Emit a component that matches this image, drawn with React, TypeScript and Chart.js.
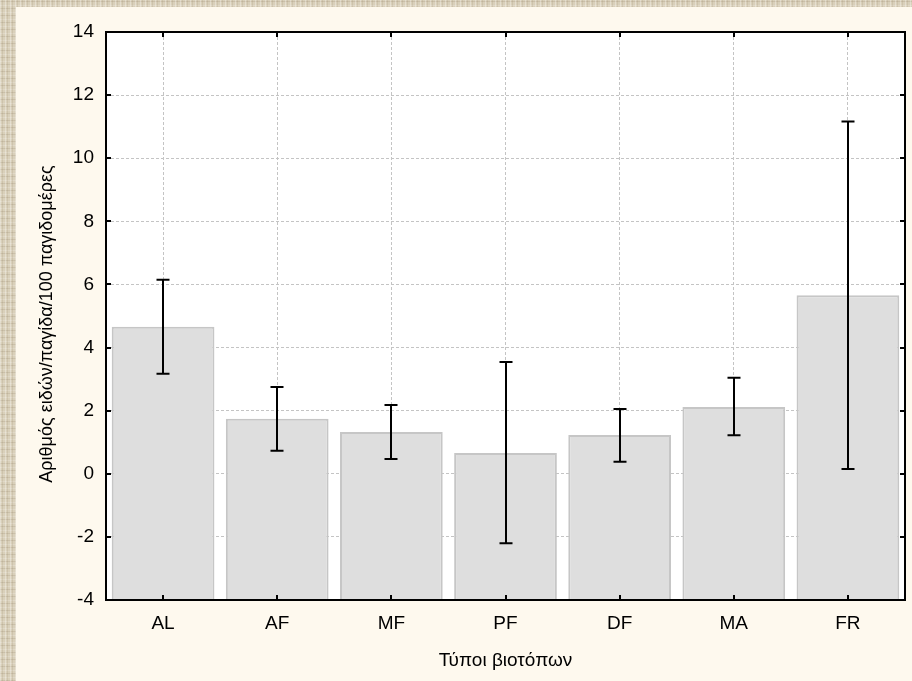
import React, { useEffect, useRef } from "react";
import { Chart, registerables } from "chart.js";

Chart.register(...registerables);

const categories = ["AL", "AF", "MF", "PF", "DF", "MA", "FR"];
const means = [4.66, 1.74, 1.32, 0.66, 1.23, 2.12, 5.66];
const upper = [6.15, 2.75, 2.18, 3.54, 2.05, 3.04, 11.16];
const lower = [3.17, 0.73, 0.47, -2.2, 0.38, 1.22, 0.15];
const yMin = -4;
const yMax = 14;
const yStep = 2;
const xTitle = "Τύποι βιοτόπων";
const yTitle = "Αριθμός ειδών/παγίδα/100 παγιδομέρες";

const FONT = "'Liberation Sans', Arial, sans-serif";

const decorPlugin = {
  id: "decor",
  beforeDraw(chart: any) {
    const { ctx, chartArea } = chart;
    ctx.save();
    ctx.fillStyle = "#ffffff";
    ctx.fillRect(chartArea.left, chartArea.top, chartArea.right - chartArea.left, chartArea.bottom - chartArea.top);
    ctx.restore();
  },
  afterDatasetsDraw(chart: any) {
    const { ctx } = chart;
    const x = chart.scales.x;
    const y = chart.scales.y;
    ctx.save();
    ctx.strokeStyle = "#000";
    ctx.lineWidth = 2;
    const half = 6.5;
    categories.forEach((_, i) => {
      const px = Math.round(x.getPixelForValue(i));
      const yt = y.getPixelForValue(upper[i]);
      const yb = y.getPixelForValue(lower[i]);
      ctx.beginPath();
      ctx.moveTo(px, yt);
      ctx.lineTo(px, yb);
      ctx.moveTo(px - half, yt);
      ctx.lineTo(px + half, yt);
      ctx.moveTo(px - half, yb);
      ctx.lineTo(px + half, yb);
      ctx.stroke();
    });
    ctx.restore();
  },
  afterDraw(chart: any) {
    const { ctx, chartArea } = chart;
    const { left, right, top, bottom } = chartArea;
    const x = chart.scales.x;
    const y = chart.scales.y;
    ctx.save();
    ctx.strokeStyle = "#000";
    ctx.lineWidth = 2;
    ctx.strokeRect(left, top, right - left, bottom - top);
    const tl = 5;
    ctx.beginPath();
    y.ticks.forEach((t: any) => {
      const py = Math.round(y.getPixelForValue(t.value));
      ctx.moveTo(left, py);
      ctx.lineTo(left + tl, py);
      ctx.moveTo(right, py);
      ctx.lineTo(right - tl, py);
    });
    categories.forEach((_, i) => {
      const px = Math.round(x.getPixelForValue(i));
      ctx.moveTo(px, top);
      ctx.lineTo(px, top + tl);
      ctx.moveTo(px, bottom);
      ctx.lineTo(px, bottom - tl);
    });
    ctx.stroke();

    // y-axis title, slightly below the plot centre as in the reference
    ctx.translate(y.left + 47, (top + bottom) / 2 + 8);
    ctx.rotate(-Math.PI / 2);
    ctx.fillStyle = "#000";
    ctx.font = `18px ${FONT}`;
    ctx.textAlign = "center";
    ctx.textBaseline = "middle";
    ctx.fillText(yTitle, 0, 0);
    ctx.restore();
  },
};

export default function App() {
  const ref = useRef<HTMLCanvasElement | null>(null);

  useEffect(() => {
    if (!ref.current) return;
    const chart = new Chart(ref.current, {
      type: "bar",
      data: {
        labels: categories,
        datasets: [
          {
            data: means,
            base: yMin,
            backgroundColor: "#dedede",
            borderColor: "#c6c6c6",
            borderWidth: 2,
            barPercentage: 0.9,
            categoryPercentage: 1,
          } as any,
        ],
      },
      options: {
        animation: false,
        responsive: false,
        maintainAspectRatio: false,
        layout: { padding: { top: 32, right: 7, left: 0, bottom: 0 } },
        plugins: { legend: { display: false }, tooltip: { enabled: false } },
        scales: {
          x: {
            offset: true,
            grid: { offset: false, color: "#c4c4c4", lineWidth: 1, drawTicks: false },
            border: { display: false, dash: [3, 2] },
            ticks: { color: "#000", font: { family: FONT, size: 19 }, padding: 12 },
            title: {
              display: true,
              text: xTitle,
              color: "#000",
              font: { family: FONT, size: 19 },
              padding: { top: 0, bottom: 9 },
            },
            afterFit(scale: any) {
              scale.height = 81;
            },
          },
          y: {
            min: yMin,
            max: yMax,
            ticks: { stepSize: yStep, color: "#000", font: { family: FONT, size: 19 }, padding: 12 },
            grid: { color: "#c4c4c4", lineWidth: 1, drawTicks: false },
            border: { display: false, dash: [3, 2] },
            title: { display: false },
            afterFit(scale: any) {
              scale.width = 106;
            },
          },
        },
      },
      plugins: [decorPlugin],
    });
    return () => chart.destroy();
  }, []);

  const texture =
    "repeating-linear-gradient(90deg, rgba(255,255,255,0.30) 0px, rgba(255,255,255,0.30) 1px, transparent 1px, transparent 2px, rgba(120,100,70,0.12) 2px, rgba(120,100,70,0.12) 3px, transparent 3px, transparent 5px)," +
    "repeating-linear-gradient(0deg, rgba(110,90,60,0.14) 0px, rgba(110,90,60,0.14) 1px, transparent 1px, transparent 3px, rgba(255,255,255,0.18) 3px, rgba(255,255,255,0.18) 4px, transparent 4px, transparent 7px)";

  return (
    <div style={{ position: "fixed", left: 0, top: 0, width: 912, height: 681, background: "#d9d0ba", backgroundImage: texture, overflow: "hidden" }}>
      <div style={{ position: "absolute", left: 16, top: 7, right: 0, bottom: 0, background: "#fef9ee" }} />
      <canvas ref={ref} width={912} height={681} style={{ position: "absolute", left: 0, top: 0, width: 912, height: 681 }} />
    </div>
  );
}
